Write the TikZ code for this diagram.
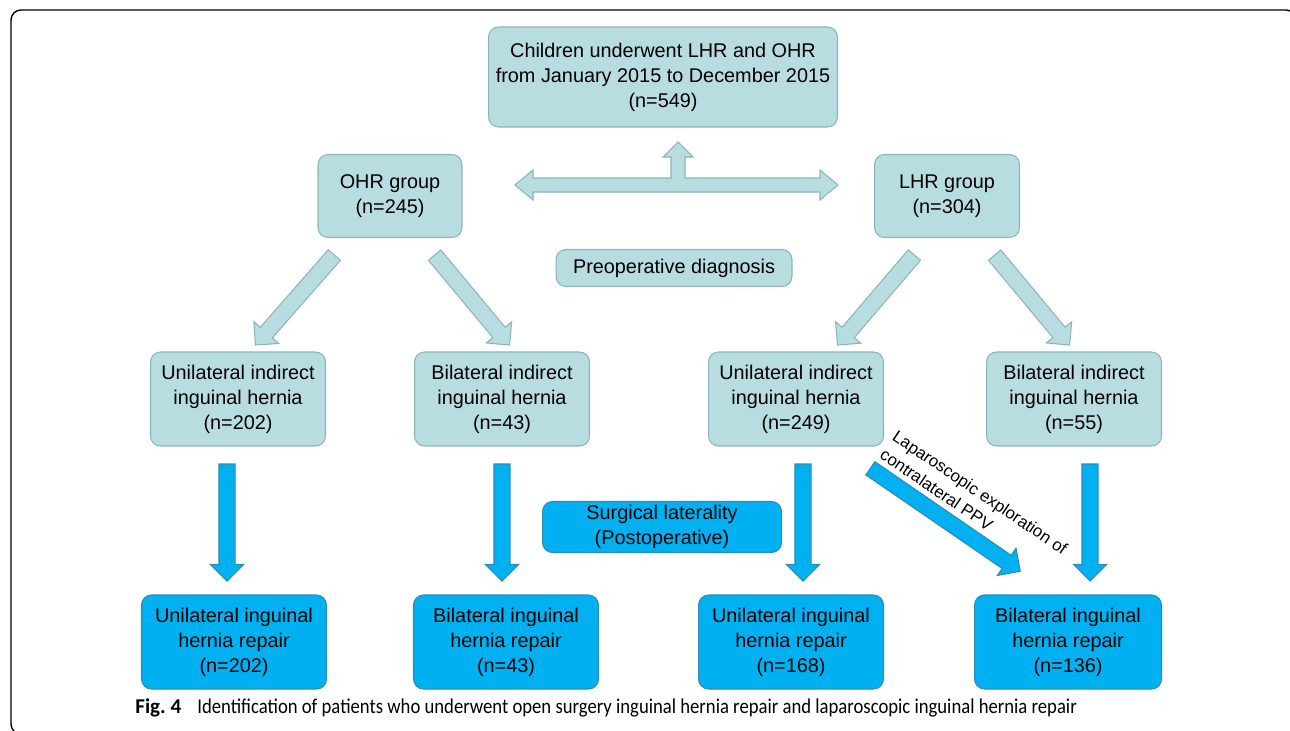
\documentclass[tikz,border=0pt]{standalone}
\usepackage{fontspec}
\setmainfont{Liberation Sans}
\newfontfamily\capfont[FakeStretch=0.886]{Carlito}
\newfontfamily\capfig{Carlito}
\usetikzlibrary{shapes.arrows,calc}

\definecolor{paleteal}{HTML}{B7DDE0}
\definecolor{tealline}{HTML}{8DB4B8}
\definecolor{skyblue}{HTML}{00B0F0}
\definecolor{skyline}{HTML}{2C8DBA}

% fat arrow between two named points
\newcommand{\fatarrow}[3]{%
  \path let \p1=($(#3)-(#2)$), \n1={atan2(\y1,\x1)}, \n2={veclen(\x1,\y1)} in
    node[#1, minimum height=\n2, rotate=\n1] at ($(#2)!0.5!(#3)$) {};}

\begin{document}
\begin{tikzpicture}[x=0.02cm,y=-0.02cm,
  every node/.style={font=\fontsize{11.3}{14.2}\selectfont, text=black},
  palebox/.style={draw=tealline, fill=paleteal, rounded corners=0.2cm, line width=0.6pt, inner sep=0pt, align=center},
  bluebox/.style={draw=skyline, fill=skyblue, rounded corners=0.2cm, line width=0.6pt, inner sep=0pt, align=center},
  fat/.style={single arrow, inner xsep=0pt, inner ysep=0.15cm, minimum width=0pt,
    single arrow head extend=0.17cm, line width=0.6pt},
  palearrow/.style={fat, draw=tealline, fill=paleteal},
  bluearrow/.style={fat, draw=skyline, fill=skyblue}]
\clip (0,0) rectangle (1290,730);
\draw[line width=0.8pt, rounded corners=0.2cm] (11,10) rectangle (1296,734);

\node[palebox, minimum width=6.98cm, minimum height=2cm] (all) at (663,77)
  {Children underwent LHR and OHR\\from January 2015 to December 2015\\(n=549)};
\node[palebox, minimum width=2.88cm, minimum height=1.66cm] (ohr) at (390,196) {OHR group\\(n=245)};
\node[palebox, minimum width=2.9cm, minimum height=1.66cm] (lhr) at (947,196) {LHR group\\(n=304)};
\node[palebox, minimum width=4.72cm, minimum height=0.74cm] (preop) at (674,268) {Preoperative diagnosis};

\node[palebox, minimum width=3.5cm, minimum height=1.88cm] (ohruni) at (238,399) {Unilateral indirect\\inguinal hernia\\(n=202)};
\node[palebox, minimum width=3.5cm, minimum height=1.88cm] (ohrbi) at (502,399) {Bilateral indirect\\inguinal hernia\\(n=43)};
\node[palebox, minimum width=3.5cm, minimum height=1.88cm] (lhruni) at (796,399) {Unilateral indirect\\inguinal hernia\\(n=249)};
\node[palebox, minimum width=3.5cm, minimum height=1.88cm] (lhrbi) at (1074,399) {Bilateral indirect\\inguinal hernia\\(n=55)};

\node[bluebox, minimum width=4.78cm, minimum height=1.02cm] (lat) at (662,527) {Surgical laterality\\(Postoperative)};

\node[bluebox, minimum width=3.7cm, minimum height=1.88cm] (ohrunirep) at (234,642) {Unilateral inguinal\\hernia repair\\(n=202)};
\node[bluebox, minimum width=3.7cm, minimum height=1.88cm] (ohrbirep) at (506,642) {Bilateral inguinal\\hernia repair\\(n=43)};
\node[bluebox, minimum width=3.7cm, minimum height=1.88cm] (lhrunirep) at (791,642) {Unilateral inguinal\\hernia repair\\(n=168)};
\node[bluebox, minimum width=3.74cm, minimum height=1.88cm] (lhrbirep) at (1068,642) {Bilateral inguinal\\hernia repair\\(n=136)};

% split arrow under the top box
\draw[tealline, fill=paleteal, line width=0.6pt] (515,185) -- (533,170) -- (533,178) -- (671,178) -- (671,157)
  -- (663,157) -- (678,142) -- (693,157) -- (685,157) -- (685,178) -- (820,178) -- (820,170) -- (838,185)
  -- (820,200) -- (820,192) -- (533,192) -- (533,200) -- cycle;

\coordinate (a1) at (337,252); \coordinate (b1) at (258,342);
\coordinate (a2) at (432,252); \coordinate (b2) at (507,342);
\coordinate (a3) at (917,252); \coordinate (b3) at (840,342);
\coordinate (a4) at (992,252); \coordinate (b4) at (1067,342);
\fatarrow{palearrow}{a1}{b1}
\fatarrow{palearrow}{a2}{b2}
\fatarrow{palearrow}{a3}{b3}
\fatarrow{palearrow}{a4}{b4}

\coordinate (c1) at (227,460); \coordinate (d1) at (227,577);
\coordinate (c2) at (502,460); \coordinate (d2) at (502,577);
\coordinate (c3) at (803,460); \coordinate (d3) at (803,577);
\coordinate (c4) at (1090,460); \coordinate (d4) at (1090,577);
\coordinate (c5) at (867,466); \coordinate (d5) at (1017,569);
\fatarrow{bluearrow}{c1}{d1}
\fatarrow{bluearrow}{c2}{d2}
\fatarrow{bluearrow}{c3}{d3}
\fatarrow{bluearrow}{c4}{d4}
\fatarrow{bluearrow}{c5}{d5}

\node[rotate=-34, align=left, anchor=north west, inner sep=0pt, font=\fontsize{9.6}{12.6}\selectfont] (ppv) at (898,429)
  {Laparoscopic exploration of\\contralateral PPV};

\node[anchor=base west, inner sep=0pt, font=\capfig\fontsize{12}{14}\selectfont\bfseries] (fig) at (135,713) {Fig.~4};
\node[anchor=base west, inner sep=0pt, font=\capfont\fontsize{12}{14}\selectfont] (cap) at (197,713)
  {Identification of patients who underwent open surgery inguinal hernia repair and laparoscopic inguinal hernia repair};
\end{tikzpicture}
\end{document}
